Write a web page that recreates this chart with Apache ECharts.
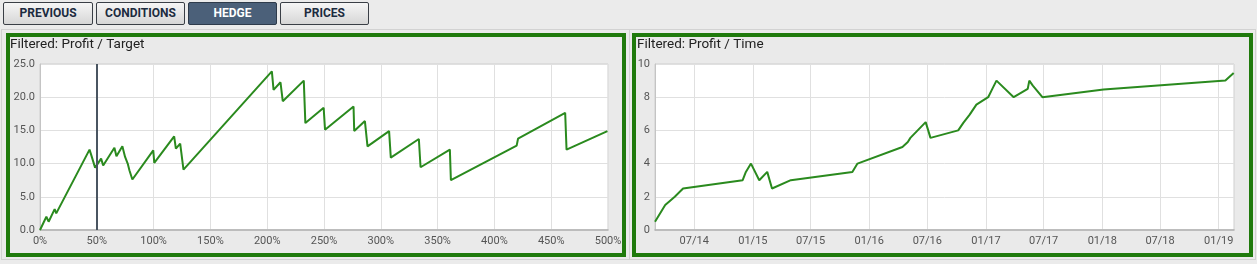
<!DOCTYPE html>
<html>
<head>
<meta charset="utf-8">
<script src="https://cdn.jsdelivr.net/npm/echarts@6/dist/echarts.min.js"></script>
<style>
  html, body { margin:0; padding:0; width:1257px; height:264px; overflow:hidden; background:#ebebeb; font-family: Roboto, "Noto Sans", sans-serif; }
  .btn { position:absolute; top:2px; height:23px; box-sizing:border-box; border:1px solid #3a3f46; border-radius:2px;
         background:linear-gradient(#f6f6f6,#d6d6d6); color:#1c2b3f; font-weight:bold; font-size:12px; line-height:21px; text-align:center; }
  .btn.active { background:#4b6079; color:#fff; border-color:#2e3b4b; }
  .outer { position:absolute; top:29px; height:231px; box-sizing:border-box; border:1px solid #d2d2d2; }
  .panel { position:absolute; top:33px; height:224px; box-sizing:border-box; border:4px solid #1f7a0c; background:#eaeaea; }
  #chart { position:absolute; left:0; top:0; width:1257px; height:264px; }
</style>
</head>
<body>
<div class="btn" style="left:3px;width:90px;">PREVIOUS</div>
<div class="btn" style="left:96px;width:89px;">CONDITIONS</div>
<div class="btn active" style="left:188px;width:89px;">HEDGE</div>
<div class="btn" style="left:280px;width:89px;">PRICES</div>
<div class="outer" style="left:1px;width:629px;"></div>
<div class="outer" style="left:629px;width:627px;"></div>
<div class="panel" style="left:6px;width:620px;"></div>
<div class="panel" style="left:632px;width:621px;"></div>
<div id="chart"></div>
<script>
// ---- Left chart: Profit / Target ----
const targetPct = [0, 5.6, 7.6, 12.9, 14.3, 43.6, 45.0, 46.5, 48.5, 53.8, 55.6, 65.5, 67.3, 72.5, 74.9, 77.2, 78.7, 81.3,
  99.7, 100.6, 118.1, 119.6, 123.4, 126.3, 204.1, 205.6, 211.7, 213.7, 232.2, 233.6, 249.7, 250.9, 276.0, 276.6,
  286.0, 288.3, 307.3, 308.8, 333.5, 335.0, 360.8, 361.7, 419.6, 420.8, 462.3, 463.5, 499.5];
const targetProfit = [0, 2.0, 1.25, 3.15, 2.5, 12.1, 11.35, 11.6, 9.4, 10.75, 9.7, 12.4, 11.1, 12.6, 11.0, 10.0, 9.0, 7.6,
  12.0, 10.1, 14.1, 12.25, 13.0, 9.1, 23.9, 21.1, 22.25, 19.4, 22.5, 16.1, 18.4, 15.1, 18.6, 14.9,
  16.4, 12.6, 14.9, 10.9, 13.7, 9.45, 12.1, 7.5, 12.7, 13.75, 17.65, 12.1, 14.9];
const targetMarker = 50;

// ---- Right chart: Profit / Time ----
const timeDates = ['2014-02-28','2014-04-01','2014-05-01','2014-05-27','2014-11-30','2014-12-10','2014-12-26','2015-01-21',
  '2015-02-15','2015-03-02','2015-04-30','2015-11-09','2015-11-25','2016-04-14','2016-05-01','2016-05-09','2016-06-26',
  '2016-07-11','2016-10-06','2016-10-22','2016-11-11','2016-12-02','2017-01-08','2017-01-21','2017-02-03','2017-03-29',
  '2017-05-12','2017-05-17','2017-05-28','2017-06-27','2018-01-05','2019-01-22','2019-02-17'];
const timeProfit = [0.5, 1.5, 2.0, 2.5, 3.0, 3.5, 4.0, 3.0,
  3.5, 2.5, 3.0, 3.5, 4.0, 5.0, 5.3, 5.55, 6.5,
  5.55, 6.0, 6.45, 6.95, 7.55, 8.0, 8.5, 9.0, 8.0,
  8.5, 9.0, 8.7, 8.0, 8.47, 9.0, 9.46];
const timeTickDates = ['2014-07-01','2015-01-01','2015-07-01','2016-01-01','2016-07-01','2017-01-01','2017-07-01','2018-01-01','2018-07-01','2019-01-01'];
const timeMin = '2014-02-28', timeMax = '2019-02-18';

function ts(s) { const p = s.split('-').map(Number); return Date.UTC(p[0], p[1]-1, p[2]); }
function fmtMY(v) { const d = new Date(v); const m = d.getUTCMonth()+1; const y = d.getUTCFullYear() % 100;
  return (m < 10 ? '0' + m : '' + m) + '/' + (y < 10 ? '0' + y : '' + y); }

const green = '#2a8a1e';
const labelStyle = { color: '#555', fontSize: 11, fontFamily: 'Roboto, "Noto Sans", sans-serif' };
const splitStyle = { show: true, lineStyle: { color: '#e0e0e0', width: 1 } };
const titleStyle = { fontSize: 13.5, fontWeight: 'normal', color: '#222', fontFamily: 'Roboto, "Noto Sans", sans-serif' };

const chart = echarts.init(document.getElementById('chart'), null, { renderer: 'canvas' });
chart.setOption({
  animation: false,
  backgroundColor: 'transparent',
  title: [
    { text: 'Filtered: Profit / Target', left: 10, top: 38, padding: 0, textStyle: titleStyle },
    { text: 'Filtered: Profit / Time', left: 637, top: 38, padding: 0, textStyle: titleStyle }
  ],
  grid: [
    { left: 40, top: 64, width: 568, height: 166, show: true, backgroundColor: '#fff', borderColor: '#cfcfcf', borderWidth: 1 },
    { left: 655, top: 64, width: 579, height: 166, show: true, backgroundColor: '#fff', borderColor: '#cfcfcf', borderWidth: 1 }
  ],
  xAxis: [
    { gridIndex: 0, type: 'value', min: 0, max: 500, interval: 50,
      axisLine: { show: true, lineStyle: { color: '#b0b0b0', width: 1.5 } }, axisTick: { show: false },
      axisLabel: Object.assign({ formatter: '{value}%', margin: 6 }, labelStyle), splitLine: splitStyle },
    { gridIndex: 1, type: 'value', min: ts(timeMin), max: ts(timeMax),
      axisLine: { show: true, lineStyle: { color: '#b0b0b0', width: 1.5 } },
      axisTick: { show: false, customValues: timeTickDates.map(ts) },
      axisLabel: Object.assign({ formatter: fmtMY, margin: 6, customValues: timeTickDates.map(ts) }, labelStyle),
      splitLine: splitStyle }
  ],
  yAxis: [
    { gridIndex: 0, type: 'value', min: 0, max: 25, interval: 5,
      axisLine: { show: true, lineStyle: { color: '#c4c4c4' } }, axisTick: { show: false },
      axisLabel: Object.assign({ formatter: v => v.toFixed(1), margin: 5 }, labelStyle), splitLine: splitStyle },
    { gridIndex: 1, type: 'value', min: 0, max: 10, interval: 2,
      axisLine: { show: true, lineStyle: { color: '#c4c4c4' } }, axisTick: { show: false },
      axisLabel: Object.assign({ margin: 5 }, labelStyle), splitLine: splitStyle }
  ],
  series: [
    { type: 'line', xAxisIndex: 0, yAxisIndex: 0, showSymbol: false, symbol: 'none',
      data: targetPct.map((x, i) => [x, targetProfit[i]]),
      lineStyle: { color: green, width: 2 },
      markLine: { silent: true, symbol: 'none', label: { show: false },
        lineStyle: { color: '#4a5561', width: 2, type: 'solid' },
        data: [{ xAxis: targetMarker }] } },
    { type: 'line', xAxisIndex: 1, yAxisIndex: 1, showSymbol: false, symbol: 'none',
      data: timeDates.map((d, i) => [ts(d), timeProfit[i]]),
      lineStyle: { color: green, width: 2 } }
  ]
});
</script>
</body>
</html>
